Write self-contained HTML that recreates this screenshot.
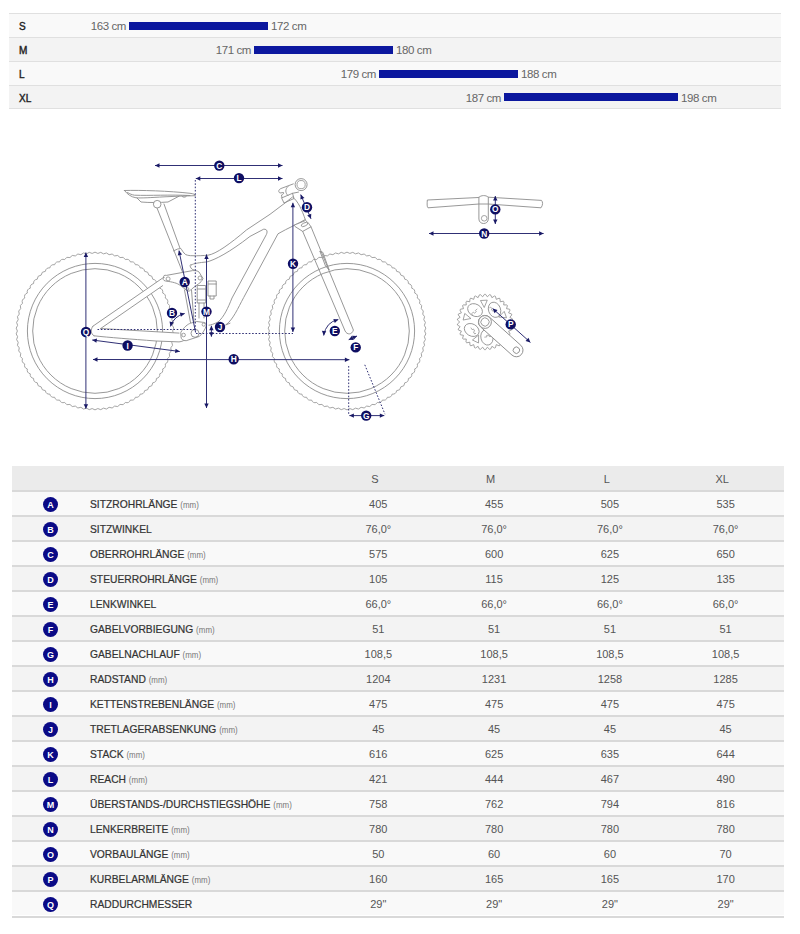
<!DOCTYPE html>
<html><head><meta charset="utf-8">
<style>
html,body{margin:0;padding:0;background:#fff;width:800px;height:934px;overflow:hidden;position:relative;font-family:"Liberation Sans",sans-serif;}
.sz{position:absolute;left:9px;width:772px;height:23px;border-top:1px solid #e0e0e0;}
.sz .lb{position:absolute;left:10px;top:7px;font-size:10px;font-weight:normal;-webkit-text-stroke:0.4px #222;color:#222;}
.sz .bar{position:absolute;top:8px;height:8px;background:#0b179e;}
.sz .t{position:absolute;top:6px;font-size:11.5px;letter-spacing:-0.4px;color:#666;white-space:nowrap;}
.sz .tl{text-align:right;}
#geo{position:absolute;left:12px;top:466px;width:772px;}
.hd{position:absolute;left:0;top:0;width:772px;height:24px;background:#ebebeb;}
.hd span{position:absolute;top:7px;font-size:11px;color:#555;transform:translateX(-50%);}
.rw{position:absolute;left:0;width:772px;height:23px;border-top:2px solid #d9d9d9;}
.rw.o{background:#f9f9f9}.rw.e{background:#f3f3f3}
.rw .ic{position:absolute;left:31px;top:4.5px;width:15px;height:15px;border-radius:50%;background:#0a0a86;color:#fff;font-size:9px;font-weight:bold;text-align:center;line-height:16.5px;}
.rw .nm{position:absolute;left:77.5px;top:5.5px;font-size:11px;font-weight:normal;-webkit-text-stroke:0.22px #333;letter-spacing:0;color:#333;white-space:nowrap;transform:scaleX(0.935);transform-origin:0 0;}
.rw .nm small{font-size:8.5px;font-weight:normal;color:#777;-webkit-text-stroke:0;letter-spacing:0;}
.rw .v{position:absolute;top:6px;font-size:11px;color:#555;transform:translateX(-50%);white-space:nowrap;}
.last{position:absolute;left:0;top:450px;width:772px;height:0;border-top:2px solid #d9d9d9;}
</style></head><body>
<div class="sz" style="top:13px;background:#f9f9f9"><span class="lb">S</span><span class="t" style="right:655px">163 cm</span><div class="bar" style="left:120px;width:139px"></div><span class="t" style="left:262px">172 cm</span></div>
<div class="sz" style="top:37px;background:#f3f3f3"><span class="lb">M</span><span class="t" style="right:530px">171 cm</span><div class="bar" style="left:245px;width:139px"></div><span class="t" style="left:387px">180 cm</span></div>
<div class="sz" style="top:61px;background:#f9f9f9"><span class="lb">L</span><span class="t" style="right:405px">179 cm</span><div class="bar" style="left:370px;width:139px"></div><span class="t" style="left:512px">188 cm</span></div>
<div class="sz" style="top:85px;height:22px;background:#f3f3f3;border-bottom:1px solid #e0e0e0"><span class="lb" style="top:6.5px">XL</span><span class="t" style="right:280px;top:5.5px">187 cm</span><div class="bar" style="left:495px;width:174px;top:7px"></div><span class="t" style="left:672px;top:5.5px">198 cm</span></div>

<svg id="bike" style="position:absolute;left:0;top:0" width="800" height="934" viewBox="0 0 800 934">
<path d="M172.60 331.00Q175.15 333.93 172.39 336.66Q174.72 339.77 171.77 342.30Q173.87 345.57 170.74 347.87Q172.59 351.29 169.31 353.36Q170.90 356.90 167.48 358.72Q168.81 362.37 165.26 363.94Q166.33 367.67 162.67 368.98Q163.46 372.78 159.72 373.82Q160.23 377.67 156.42 378.43Q156.65 382.30 152.79 382.78Q152.74 386.66 148.86 386.86Q148.52 390.73 144.64 390.65Q144.02 394.48 140.15 394.11Q139.25 397.89 135.42 397.24Q134.25 400.94 130.48 400.01Q129.04 403.62 125.35 402.42Q123.65 405.91 120.06 404.44Q118.11 407.80 114.63 406.08Q112.44 409.28 109.10 407.31Q106.68 410.35 103.49 408.13Q100.85 410.99 97.83 408.55Q95.00 411.20 92.17 408.55Q89.15 410.99 86.51 408.13Q83.32 410.35 80.90 407.31Q77.56 409.28 75.37 406.08Q71.89 407.80 69.94 404.44Q66.35 405.91 64.65 402.42Q60.96 403.62 59.52 400.01Q55.75 400.94 54.58 397.24Q50.75 397.89 49.85 394.11Q45.98 394.48 45.36 390.65Q41.48 390.73 41.14 386.86Q37.26 386.66 37.21 382.78Q33.35 382.30 33.58 378.43Q29.77 377.67 30.28 373.82Q26.54 372.78 27.33 368.98Q23.67 367.67 24.74 363.94Q21.19 362.37 22.52 358.72Q19.10 356.90 20.69 353.36Q17.41 351.29 19.26 347.87Q16.13 345.57 18.23 342.30Q15.28 339.77 17.61 336.66Q14.85 333.93 17.40 331.00Q14.85 328.07 17.61 325.34Q15.28 322.23 18.23 319.70Q16.13 316.43 19.26 314.13Q17.41 310.71 20.69 308.64Q19.10 305.10 22.52 303.28Q21.19 299.63 24.74 298.06Q23.67 294.33 27.33 293.02Q26.54 289.22 30.28 288.18Q29.77 284.33 33.58 283.57Q33.35 279.70 37.21 279.22Q37.26 275.34 41.14 275.14Q41.48 271.27 45.36 271.35Q45.98 267.52 49.85 267.89Q50.75 264.11 54.58 264.76Q55.75 261.06 59.52 261.99Q60.96 258.38 64.65 259.58Q66.35 256.09 69.94 257.56Q71.89 254.20 75.37 255.92Q77.56 252.72 80.90 254.69Q83.32 251.65 86.51 253.87Q89.15 251.01 92.17 253.45Q95.00 250.80 97.83 253.45Q100.85 251.01 103.49 253.87Q106.68 251.65 109.10 254.69Q112.44 252.72 114.63 255.92Q118.11 254.20 120.06 257.56Q123.65 256.09 125.35 259.58Q129.04 258.38 130.48 261.99Q134.25 261.06 135.42 264.76Q139.25 264.11 140.15 267.89Q144.02 267.52 144.64 271.35Q148.52 271.27 148.86 275.14Q152.74 275.34 152.79 279.22Q156.65 279.70 156.42 283.57Q160.23 284.33 159.72 288.18Q163.46 289.22 162.67 293.02Q166.33 294.33 165.26 298.06Q168.81 299.63 167.48 303.28Q170.90 305.10 169.31 308.64Q172.59 310.71 170.74 314.13Q173.87 316.43 171.77 319.70Q174.72 322.23 172.39 325.34Q175.15 328.07 172.60 331.00Z" fill="none" stroke="#9a9a9a" stroke-width="0.9"/>
<circle cx="95" cy="331" r="67.6" fill="none" stroke="#8c8c8c" stroke-width="0.9"/>
<circle cx="95" cy="331" r="62.3" fill="none" stroke="#8c8c8c" stroke-width="0.9"/>
<path d="M424.60 331.00Q427.15 333.93 424.39 336.66Q426.72 339.77 423.77 342.30Q425.87 345.57 422.74 347.87Q424.59 351.29 421.31 353.36Q422.90 356.90 419.48 358.72Q420.81 362.37 417.26 363.94Q418.33 367.67 414.67 368.98Q415.46 372.78 411.72 373.82Q412.23 377.67 408.42 378.43Q408.65 382.30 404.79 382.78Q404.74 386.66 400.86 386.86Q400.52 390.73 396.64 390.65Q396.02 394.48 392.15 394.11Q391.25 397.89 387.42 397.24Q386.25 400.94 382.48 400.01Q381.04 403.62 377.35 402.42Q375.65 405.91 372.06 404.44Q370.11 407.80 366.63 406.08Q364.44 409.28 361.10 407.31Q358.68 410.35 355.49 408.13Q352.85 410.99 349.83 408.55Q347.00 411.20 344.17 408.55Q341.15 410.99 338.51 408.13Q335.32 410.35 332.90 407.31Q329.56 409.28 327.37 406.08Q323.89 407.80 321.94 404.44Q318.35 405.91 316.65 402.42Q312.96 403.62 311.52 400.01Q307.75 400.94 306.58 397.24Q302.75 397.89 301.85 394.11Q297.98 394.48 297.36 390.65Q293.48 390.73 293.14 386.86Q289.26 386.66 289.21 382.78Q285.35 382.30 285.58 378.43Q281.77 377.67 282.28 373.82Q278.54 372.78 279.33 368.98Q275.67 367.67 276.74 363.94Q273.19 362.37 274.52 358.72Q271.10 356.90 272.69 353.36Q269.41 351.29 271.26 347.87Q268.13 345.57 270.23 342.30Q267.28 339.77 269.61 336.66Q266.85 333.93 269.40 331.00Q266.85 328.07 269.61 325.34Q267.28 322.23 270.23 319.70Q268.13 316.43 271.26 314.13Q269.41 310.71 272.69 308.64Q271.10 305.10 274.52 303.28Q273.19 299.63 276.74 298.06Q275.67 294.33 279.33 293.02Q278.54 289.22 282.28 288.18Q281.77 284.33 285.58 283.57Q285.35 279.70 289.21 279.22Q289.26 275.34 293.14 275.14Q293.48 271.27 297.36 271.35Q297.98 267.52 301.85 267.89Q302.75 264.11 306.58 264.76Q307.75 261.06 311.52 261.99Q312.96 258.38 316.65 259.58Q318.35 256.09 321.94 257.56Q323.89 254.20 327.37 255.92Q329.56 252.72 332.90 254.69Q335.32 251.65 338.51 253.87Q341.15 251.01 344.17 253.45Q347.00 250.80 349.83 253.45Q352.85 251.01 355.49 253.87Q358.68 251.65 361.10 254.69Q364.44 252.72 366.63 255.92Q370.11 254.20 372.06 257.56Q375.65 256.09 377.35 259.58Q381.04 258.38 382.48 261.99Q386.25 261.06 387.42 264.76Q391.25 264.11 392.15 267.89Q396.02 267.52 396.64 271.35Q400.52 271.27 400.86 275.14Q404.74 275.34 404.79 279.22Q408.65 279.70 408.42 283.57Q412.23 284.33 411.72 288.18Q415.46 289.22 414.67 293.02Q418.33 294.33 417.26 298.06Q420.81 299.63 419.48 303.28Q422.90 305.10 421.31 308.64Q424.59 310.71 422.74 314.13Q425.87 316.43 423.77 319.70Q426.72 322.23 424.39 325.34Q427.15 328.07 424.60 331.00Z" fill="none" stroke="#9a9a9a" stroke-width="0.9"/>
<circle cx="347" cy="331" r="67.6" fill="none" stroke="#8c8c8c" stroke-width="0.9"/>
<circle cx="347" cy="331" r="62.3" fill="none" stroke="#8c8c8c" stroke-width="0.9"/>
<path d="M124.5 190.5 C140 190 170 191 190 193.3 C194 193.8 196 194.8 195.2 195.7 C185 196 175 196.2 165 196.8 C150 197.6 142 198.2 136 197.8 C131 197 127 194 124.5 190.5 Z" fill="#fff" stroke="#8c8c8c" stroke-width="0.9" stroke-linejoin="round" stroke-linecap="round"/>
<path d="M127.5 192.5 C130 194 132 194.8 134.5 195.2 C150 195.8 170 194.5 190 195.5" fill="none" stroke="#8c8c8c" stroke-width="0.9" stroke-linejoin="round" stroke-linecap="round"/>
<path d="M137 198 L141 202 C150 202.8 160 202.6 168 202 L179 196.2" fill="none" stroke="#8c8c8c" stroke-width="0.9" stroke-linejoin="round" stroke-linecap="round"/>
<path d="M182 196.3 C183 197.6 185.5 197.6 186.5 196.1" fill="none" stroke="#8c8c8c" stroke-width="0.9" stroke-linejoin="round" stroke-linecap="round"/>
<path d="M156.6 207 L183.3 274 M164 204 L179.8 247.7" fill="none" stroke="#8c8c8c" stroke-width="0.9" stroke-linejoin="round" stroke-linecap="round"/>
<circle cx="157.2" cy="204.2" r="3.8" fill="#fff" stroke="#8c8c8c" stroke-width="0.9"/>
<path d="M184.5 290 L190.6 323 M191.5 290 L194 322" fill="none" stroke="#8c8c8c" stroke-width="0.9" stroke-linejoin="round" stroke-linecap="round"/>
<path d="M173.4 250.9 L177.7 249 L180.9 248.5 C182 250 183 252.5 185.7 254.6 C188 255.5 190 255.7 192 255.7 C198 256 204 255.5 208 255.2 C216 254 230 244 246.4 230 L270 214.3 L285 203" fill="none" stroke="#8c8c8c" stroke-width="0.9" stroke-linejoin="round" stroke-linecap="round"/>
<path d="M191.7 264.8 C190 263.5 189.5 266 191 268 C192 269.5 193 270 196 270.5" fill="none" stroke="#8c8c8c" stroke-width="0.9" stroke-linejoin="round" stroke-linecap="round"/>
<path d="M191.7 264.8 C193 263.5 200 262.5 206.5 262 C215 260 230 252 250 236.4 L263.7 229.2 C267.5 229 268 232 265.6 236 L232 298 C228 308 224 317 218 322 C214 324 211 325 209 325.2" fill="none" stroke="#8c8c8c" stroke-width="0.9" stroke-linejoin="round" stroke-linecap="round"/>
<path d="M305.25 219.5 C298 224 288 228 278 233.8 L243.7 297.5 C238 308 233 320 225.6 325 L230 323.2" fill="none" stroke="#8c8c8c" stroke-width="0.9" stroke-linejoin="round" stroke-linecap="round"/>
<path d="M285 203 L292.5 197 C298 201 302 210 305.25 219.5" fill="none" stroke="#8c8c8c" stroke-width="0.9" stroke-linejoin="round" stroke-linecap="round"/>
<path d="M293.3 183.9 L281 188.5 C278.5 189.5 278 192 280 193 L283.5 192.5 C284 193.5 283 194.5 281.5 195 L282 197.8 L292.5 193.3 L298.5 192.1" fill="none" stroke="#8c8c8c" stroke-width="0.9" stroke-linejoin="round" stroke-linecap="round"/>
<path d="M281.5 197.8 L284 203 L294 198.5 L292.5 193.3" fill="none" stroke="#8c8c8c" stroke-width="0.9" stroke-linejoin="round" stroke-linecap="round"/>
<path d="M288 186.5 C285 189 285 193 288 195.5" fill="none" stroke="#8c8c8c" stroke-width="0.9" stroke-linejoin="round" stroke-linecap="round"/>
<circle cx="301.1" cy="184.6" r="6" fill="#fff" stroke="#8c8c8c" stroke-width="0.9"/>
<circle cx="301.1" cy="184.6" r="4.1" fill="none" stroke="#8c8c8c" stroke-width="0.8"/>
<path d="M294.5 225 L305.5 220.5 C308 222 309 224 311 226.8 L302.7 231.4 L295.5 226.8 Z" fill="#fff" stroke="#8c8c8c" stroke-width="0.9" stroke-linejoin="round" stroke-linecap="round"/>
<ellipse cx="304.5" cy="224.5" rx="3.5" ry="1.6" transform="rotate(-25 304.5 224.5)" fill="none" stroke="#8c8c8c" stroke-width="0.8"/>
<path d="M302.7 231.4 L345.1 331 C347 335 352 335 353.4 330 L311 226.8" fill="none" stroke="#8c8c8c" stroke-width="0.9" stroke-linejoin="round" stroke-linecap="round"/>
<path d="M320 251.4 L325.5 266 L329 269.6 M320 251.4 L322.8 252.3 L329 269.6" fill="none" stroke="#8c8c8c" stroke-width="0.9" stroke-linejoin="round" stroke-linecap="round"/>
<path d="M92.9 326.2 L163.7 277.3 L162.6 285.7 L100.7 328.5 L179 333.1 L186 339.2 L179 341.9 L156 341 L94 335.8 Z" fill="#fff" stroke="none"/>
<path d="M92.9 326.2 L163.7 277.3 M100.7 328.5 L162.6 285.7" fill="none" stroke="#8c8c8c" stroke-width="0.9" stroke-linejoin="round" stroke-linecap="round"/>
<path d="M92.9 326.2 C90.5 329 90.5 334 94 335.8" fill="none" stroke="#8c8c8c" stroke-width="0.9" stroke-linejoin="round" stroke-linecap="round"/>
<path d="M163.7 277.3 C163 275.5 164.5 275 166.4 275.4 L192.6 270.6 C196 270.5 198 271 199 272 L203 278.5 C202 281 200.5 282.5 198.7 283.7 L191.7 289 C190 291 188.5 291.6 187.5 291 L180.4 285.5 C177 283 173 282 165.5 281 C163 280.5 162.6 279 163.7 277.3Z" fill="#fff" stroke="#8c8c8c" stroke-width="0.9" stroke-linejoin="round" stroke-linecap="round"/>
<circle cx="168.1" cy="278.9" r="2" fill="none" stroke="#8c8c8c" stroke-width="0.8"/>
<circle cx="200" cy="278" r="2" fill="none" stroke="#8c8c8c" stroke-width="0.8"/>
<circle cx="187.4" cy="289" r="1.5" fill="none" stroke="#8c8c8c" stroke-width="0.8"/>
<path d="M94 335.8 C110 337.6 130 339 156 341 L179 341.9 C182 341.6 184 340.6 186 339.2 M100.7 328.5 L179 333.1" fill="none" stroke="#8c8c8c" stroke-width="0.9" stroke-linejoin="round" stroke-linecap="round"/>
<path d="M197.6 285.5 L205.7 285.5 L205.7 303 L197.6 303Z M197.6 289 L205.7 289 M197.6 300 L205.7 300" fill="#fff" stroke="#8c8c8c" stroke-width="0.9" stroke-linejoin="round" stroke-linecap="round"/>
<path d="M208.4 281 L216.2 281 L216.2 296 L208.4 296Z M208.4 284 L216.2 284 M210 296 L210 299 L214 299 L214 296" fill="#fff" stroke="#8c8c8c" stroke-width="0.9" stroke-linejoin="round" stroke-linecap="round"/>
<path d="M199 303 L199 318 M204 303 L204 318" fill="none" stroke="#8c8c8c" stroke-width="0.9" stroke-linejoin="round" stroke-linecap="round"/>
<path d="M181 332 C184 327 188 324 190.6 323.2 L196.7 321.5 L203.7 322.4 C206 323 207 324 206.4 325.5 C205 330 202 334 199.4 336.4 L186.2 340.7 C183 341 181 339 181 337.2Z" fill="#fff" stroke="#8c8c8c" stroke-width="0.9" stroke-linejoin="round" stroke-linecap="round"/>
<circle cx="195" cy="333.3" r="4" fill="none" stroke="#8c8c8c" stroke-width="0.9"/>
<circle cx="183.6" cy="335" r="1.8" fill="none" stroke="#8c8c8c" stroke-width="0.8"/>
<circle cx="203.7" cy="324.6" r="1.6" fill="none" stroke="#8c8c8c" stroke-width="0.8"/>
<line x1="155" y1="165.5" x2="282.5" y2="165.5" stroke="#303075" stroke-width="1.0"/><path d="M282.50 165.50L278.00 167.70L278.00 163.30Z" fill="#1a1a66"/><path d="M155.00 165.50L159.50 163.30L159.50 167.70Z" fill="#1a1a66"/>
<line x1="195.8" y1="178.5" x2="282.5" y2="178.5" stroke="#303075" stroke-width="1.0"/><path d="M282.50 178.50L278.00 180.70L278.00 176.30Z" fill="#1a1a66"/><path d="M195.80 178.50L200.30 176.30L200.30 180.70Z" fill="#1a1a66"/>
<line x1="195.3" y1="180" x2="195.3" y2="330" stroke="#303075" stroke-width="1" stroke-dasharray="1.6 1.7"/>
<circle cx="219.3" cy="165.6" r="5.2" fill="#0e0e62"/><text x="219.3" y="168.6" text-anchor="middle" font-size="8.4" font-weight="bold" fill="#fff">C</text>
<circle cx="239" cy="178.1" r="5.2" fill="#0e0e62"/><text x="239" y="181.1" text-anchor="middle" font-size="8.4" font-weight="bold" fill="#fff">L</text>
<line x1="292.9" y1="332" x2="292.9" y2="202.8" stroke="#303075" stroke-width="1.0"/><path d="M292.90 202.80L295.10 207.30L290.70 207.30Z" fill="#1a1a66"/><path d="M292.90 332.00L290.70 327.50L295.10 327.50Z" fill="#1a1a66"/>
<circle cx="293" cy="263.8" r="5.2" fill="#0e0e62"/><text x="293" y="266.8" text-anchor="middle" font-size="8.4" font-weight="bold" fill="#fff">K</text>
<line x1="300.7" y1="194.6" x2="311" y2="218.8" stroke="#303075" stroke-width="1.0"/><path d="M311.00 218.80L307.21 215.52L311.26 213.80Z" fill="#1a1a66"/><path d="M300.70 194.60L304.49 197.88L300.44 199.60Z" fill="#1a1a66"/>
<circle cx="307" cy="207.3" r="5.2" fill="#0e0e62"/><text x="307" y="210.3" text-anchor="middle" font-size="8.4" font-weight="bold" fill="#fff">D</text>
<line x1="85.9" y1="408.7" x2="85.9" y2="252.5" stroke="#303075" stroke-width="1.0"/><path d="M85.90 252.50L88.10 257.00L83.70 257.00Z" fill="#1a1a66"/><path d="M85.90 408.70L83.70 404.20L88.10 404.20Z" fill="#1a1a66"/>
<circle cx="86" cy="332" r="5.2" fill="#0e0e62"/><text x="86" y="335.0" text-anchor="middle" font-size="8.4" font-weight="bold" fill="#fff">Q</text>
<line x1="92.25" y1="340" x2="179.75" y2="351.5" stroke="#303075" stroke-width="1.0"/><path d="M179.75 351.50L175.00 353.09L175.58 348.73Z" fill="#1a1a66"/><path d="M92.25 340.00L97.00 338.41L96.42 342.77Z" fill="#1a1a66"/>
<circle cx="127.6" cy="345.5" r="5.2" fill="#0e0e62"/><text x="127.6" y="348.5" text-anchor="middle" font-size="8.4" font-weight="bold" fill="#fff">I</text>
<line x1="349.4" y1="359.7" x2="93" y2="359.5" stroke="#303075" stroke-width="1.0"/><path d="M93.00 359.50L97.50 357.30L97.50 361.70Z" fill="#1a1a66"/><path d="M349.40 359.70L344.90 361.90L344.90 357.50Z" fill="#1a1a66"/>
<circle cx="233.7" cy="359.3" r="5.2" fill="#0e0e62"/><text x="233.7" y="362.3" text-anchor="middle" font-size="8.4" font-weight="bold" fill="#fff">H</text>
<line x1="206.5" y1="408" x2="206.5" y2="254.4" stroke="#303075" stroke-width="1.0"/><path d="M206.50 254.40L208.70 258.90L204.30 258.90Z" fill="#1a1a66"/><path d="M206.50 408.00L204.30 403.50L208.70 403.50Z" fill="#1a1a66"/>
<circle cx="206.5" cy="311.6" r="5.2" fill="#0e0e62"/><text x="206.5" y="314.6" text-anchor="middle" font-size="8.4" font-weight="bold" fill="#fff">M</text>
<line x1="195.6" y1="332.5" x2="179" y2="250.6" stroke="#303075" stroke-width="1.0"/><path d="M179.00 250.60L182.05 254.57L177.74 255.45Z" fill="#1a1a66"/>
<circle cx="184.7" cy="282" r="5.2" fill="#0e0e62"/><text x="184.7" y="285.0" text-anchor="middle" font-size="8.4" font-weight="bold" fill="#fff">A</text>
<line x1="97.5" y1="329.5" x2="195" y2="329.5" stroke="#303075" stroke-width="1" stroke-dasharray="1.6 1.7"/>
<line x1="196" y1="333.5" x2="293" y2="333.5" stroke="#303075" stroke-width="1" stroke-dasharray="1.6 1.7"/>
<line x1="211.4" y1="325.8" x2="211.4" y2="336.7" stroke="#303075" stroke-width="1.0"/><path d="M211.40 336.70L209.20 332.20L213.60 332.20Z" fill="#1a1a66"/><path d="M211.40 325.80L213.60 330.30L209.20 330.30Z" fill="#1a1a66"/>
<circle cx="220" cy="327" r="5.2" fill="#0e0e62"/><text x="220" y="330.0" text-anchor="middle" font-size="8.4" font-weight="bold" fill="#fff">J</text>
<path d="M170.5 326.4 Q174 316 184.7 313.5" fill="none" stroke="#303075" stroke-width="1"/>
<path d="M170.50 326.40L169.54 321.48L173.79 322.62Z" fill="#1a1a66"/>
<path d="M184.70 313.50L180.92 316.79L179.78 312.54Z" fill="#1a1a66"/>
<circle cx="172" cy="313" r="5.2" fill="#0e0e62"/><text x="172" y="316.0" text-anchor="middle" font-size="8.4" font-weight="bold" fill="#fff">B</text>
<path d="M323.7 335.5 Q326 322 338.3 319.5" fill="none" stroke="#303075" stroke-width="1"/>
<path d="M323.70 335.50L321.90 330.83L326.28 331.21Z" fill="#1a1a66"/>
<path d="M338.30 319.50L334.82 323.11L333.32 318.97Z" fill="#1a1a66"/>
<circle cx="334.8" cy="331" r="5.2" fill="#0e0e62"/><text x="334.8" y="334.0" text-anchor="middle" font-size="8.4" font-weight="bold" fill="#fff">E</text>
<line x1="348.7" y1="339.7" x2="357" y2="336" stroke="#303075" stroke-width="1.0"/><path d="M357.00 336.00L353.79 339.84L351.99 335.82Z" fill="#1a1a66"/><path d="M348.70 339.70L351.91 335.86L353.71 339.88Z" fill="#1a1a66"/>
<circle cx="355.7" cy="347.4" r="5.2" fill="#0e0e62"/><text x="355.7" y="350.4" text-anchor="middle" font-size="8.4" font-weight="bold" fill="#fff">F</text>
<line x1="348.7" y1="366" x2="348.7" y2="414.2" stroke="#303075" stroke-width="1" stroke-dasharray="1.6 1.7"/>
<line x1="364.8" y1="364.8" x2="385" y2="414.2" stroke="#303075" stroke-width="1" stroke-dasharray="1.6 1.7"/>
<line x1="349.4" y1="415.6" x2="384.3" y2="415.6" stroke="#303075" stroke-width="1.0"/><path d="M384.30 415.60L379.80 417.80L379.80 413.40Z" fill="#1a1a66"/><path d="M349.40 415.60L353.90 413.40L353.90 417.80Z" fill="#1a1a66"/>
<circle cx="366.2" cy="415.6" r="5.2" fill="#0e0e62"/><text x="366.2" y="418.6" text-anchor="middle" font-size="8.4" font-weight="bold" fill="#fff">G</text>
<path d="M427.3 200.4 C427 204 427 207 428 207.8 L479 204 L488.3 204 L541 207.8 C543 205 543 202 541.5 200.4 L488.3 197.2 C486 195 481 195 479 197.2 Z" fill="#fff" stroke="#8c8c8c" stroke-width="0.9" stroke-linejoin="round" stroke-linecap="round"/>
<path d="M478.9 197.2 L478.9 219 C479 225 488.3 225 488.3 219 L488.3 197.2" fill="none" stroke="#8c8c8c" stroke-width="0.9" stroke-linejoin="round" stroke-linecap="round"/>
<circle cx="484.2" cy="218.3" r="2.8" fill="none" stroke="#8c8c8c" stroke-width="0.8"/>
<line x1="495.3" y1="196" x2="495.3" y2="224" stroke="#303075" stroke-width="1.0"/><path d="M495.30 224.00L493.10 219.50L497.50 219.50Z" fill="#1a1a66"/><path d="M495.30 196.00L497.50 200.50L493.10 200.50Z" fill="#1a1a66"/>
<circle cx="495.3" cy="209.4" r="5.2" fill="#0e0e62"/><text x="495.3" y="212.4" text-anchor="middle" font-size="8.4" font-weight="bold" fill="#fff">O</text>
<line x1="429" y1="233.5" x2="543.6" y2="233.5" stroke="#303075" stroke-width="1.0"/><path d="M543.60 233.50L539.10 235.70L539.10 231.30Z" fill="#1a1a66"/><path d="M429.00 233.50L433.50 231.30L433.50 235.70Z" fill="#1a1a66"/>
<circle cx="484.2" cy="233.5" r="5.2" fill="#0e0e62"/><text x="484.2" y="236.5" text-anchor="middle" font-size="8.4" font-weight="bold" fill="#fff">N</text>
<path d="M510.30 322.00L512.62 324.05L512.53 325.07L509.87 326.65L509.87 326.65L511.78 329.09L511.50 330.07L508.59 331.14L508.59 331.14L510.02 333.89L509.56 334.80L506.51 335.32L506.51 335.32L507.41 338.28L506.79 339.10L503.70 339.04L503.70 339.04L504.04 342.12L503.28 342.81L500.25 342.19L500.25 342.19L500.01 345.28L499.14 345.82L496.28 344.65L496.28 344.65L495.48 347.64L494.53 348.01L491.92 346.33L491.92 346.33L490.59 349.13L489.59 349.32L487.33 347.19L487.33 347.19L485.51 349.70L484.49 349.70L482.67 347.19L482.67 347.19L480.41 349.32L479.41 349.13L478.08 346.33L478.08 346.33L475.47 348.01L474.52 347.64L473.72 344.65L473.72 344.65L470.86 345.82L469.99 345.28L469.75 342.19L469.75 342.19L466.72 342.81L465.96 342.12L466.30 339.04L466.30 339.04L463.21 339.10L462.59 338.28L463.49 335.32L463.49 335.32L460.44 334.80L459.98 333.89L461.41 331.14L461.41 331.14L458.50 330.07L458.22 329.09L460.13 326.65L460.13 326.65L457.47 325.07L457.38 324.05L459.70 322.00L459.70 322.00L457.38 319.95L457.47 318.93L460.13 317.35L460.13 317.35L458.22 314.91L458.50 313.93L461.41 312.86L461.41 312.86L459.98 310.11L460.44 309.20L463.49 308.68L463.49 308.68L462.59 305.72L463.21 304.90L466.30 304.96L466.30 304.96L465.96 301.88L466.72 301.19L469.75 301.81L469.75 301.81L469.99 298.72L470.86 298.18L473.72 299.35L473.72 299.35L474.52 296.36L475.47 295.99L478.08 297.67L478.08 297.67L479.41 294.87L480.41 294.68L482.67 296.81L482.67 296.81L484.49 294.30L485.51 294.30L487.33 296.81L487.33 296.81L489.59 294.68L490.59 294.87L491.92 297.67L491.92 297.67L494.53 295.99L495.48 296.36L496.28 299.35L496.28 299.35L499.14 298.18L500.01 298.72L500.25 301.81L500.25 301.81L503.28 301.19L504.04 301.88L503.70 304.96L503.70 304.96L506.79 304.90L507.41 305.72L506.51 308.68L506.51 308.68L509.56 309.20L510.02 310.11L508.59 312.86L508.59 312.86L511.50 313.93L511.78 314.91L509.87 317.35L509.87 317.35L512.53 318.93L512.62 319.95L510.30 322.00Z" fill="#fff" stroke="#8c8c8c" stroke-width="0.8" stroke-linejoin="round"/>
<ellipse cx="475.04" cy="310.13" rx="7.8" ry="6" transform="rotate(30 475.04 310.13)" fill="none" stroke="#8c8c8c" stroke-width="0.8"/>
<path d="M472.49 314.87 l-0.96 -1.15 l1.92 -1.61 l0.96 1.15 l1.92 -1.61 l-0.96 -1.15 l1.92 -1.61" fill="none" stroke="#8c8c8c" stroke-width="0.7"/>
<ellipse cx="494.54" cy="309.79" rx="7.8" ry="6" transform="rotate(70 494.54 309.79)" fill="none" stroke="#8c8c8c" stroke-width="0.8"/>
<path d="M489.37 308.28 l0.92 -1.18 l1.97 1.54 l-0.92 1.18 l1.97 1.54 l0.92 -1.18 l1.97 1.54" fill="none" stroke="#8c8c8c" stroke-width="0.7"/>
<ellipse cx="486.89" cy="337.38" rx="7.8" ry="6" transform="rotate(75 486.89 337.38)" fill="none" stroke="#8c8c8c" stroke-width="0.8"/>
<path d="M491.61 334.79 l0.18 1.49 l-2.48 0.30 l-0.18 -1.49 l-2.48 0.30 l0.18 1.49 l-2.48 0.30" fill="none" stroke="#8c8c8c" stroke-width="0.7"/>
<ellipse cx="471.71" cy="329.98" rx="7.8" ry="6" transform="rotate(30 471.71 329.98)" fill="none" stroke="#8c8c8c" stroke-width="0.8"/>
<path d="M476.00 333.24 l-1.29 0.77 l-1.29 -2.14 l1.29 -0.77 l-1.29 -2.14 l-1.29 0.77 l-1.29 -2.14" fill="none" stroke="#8c8c8c" stroke-width="0.7"/>
<path d="M484.24 307.52L487.26 300.15L480.47 300.51Z" fill="none" stroke="#8c8c8c" stroke-width="0.8" stroke-linejoin="round"/>
<path d="M470.93 318.49L464.77 313.45L463.12 320.05Z" fill="none" stroke="#8c8c8c" stroke-width="0.8" stroke-linejoin="round"/>
<path d="M478.64 335.03L472.43 340.01L478.54 342.99Z" fill="none" stroke="#8c8c8c" stroke-width="0.8" stroke-linejoin="round"/>
<path d="M498.63 317.04L506.55 317.77L504.23 311.38Z" fill="none" stroke="#8c8c8c" stroke-width="0.8" stroke-linejoin="round"/>
<g transform="translate(485 322) rotate(41.93)"><rect x="-6.6" y="-6.6" width="55.40" height="13.2" rx="6.6" fill="#fff" stroke="#8c8c8c" stroke-width="0.9"/><circle cx="0" cy="0" r="6.4" fill="#fff" stroke="#8c8c8c" stroke-width="0.9"/><circle cx="0" cy="0" r="4.1" fill="none" stroke="#8c8c8c" stroke-width="0.8"/><circle cx="42.20" cy="0" r="3.2" fill="none" stroke="#8c8c8c" stroke-width="0.9"/></g>
<line x1="492.7" y1="308.6" x2="530.4" y2="342.4" stroke="#303075" stroke-width="1.0"/><path d="M530.40 342.40L525.58 341.03L528.52 337.76Z" fill="#1a1a66"/><path d="M492.70 308.60L497.52 309.97L494.58 313.24Z" fill="#1a1a66"/>
<circle cx="510.7" cy="324.4" r="5.2" fill="#0e0e62"/><text x="510.7" y="327.4" text-anchor="middle" font-size="8.4" font-weight="bold" fill="#fff">P</text>
</svg>

<div id="geo">
<div class="hd"><span style="left:363px">S</span><span style="left:478.7px">M</span><span style="left:594.8px">L</span><span style="left:710.2px">XL</span></div>
<div class="rw o" style="top:24px"><span class="ic">A</span><span class="nm">SITZROHRLÄNGE <small>(mm)</small></span><span class="v" style="left:366.3px">405</span><span class="v" style="left:482.1px">455</span><span class="v" style="left:597.9px">505</span><span class="v" style="left:713.6px">535</span></div>
<div class="rw e" style="top:49px"><span class="ic">B</span><span class="nm">SITZWINKEL</span><span class="v" style="left:366.3px">76,0°</span><span class="v" style="left:482.1px">76,0°</span><span class="v" style="left:597.9px">76,0°</span><span class="v" style="left:713.6px">76,0°</span></div>
<div class="rw o" style="top:74px"><span class="ic">C</span><span class="nm">OBERROHRLÄNGE <small>(mm)</small></span><span class="v" style="left:366.3px">575</span><span class="v" style="left:482.1px">600</span><span class="v" style="left:597.9px">625</span><span class="v" style="left:713.6px">650</span></div>
<div class="rw e" style="top:99px"><span class="ic">D</span><span class="nm">STEUERROHRLÄNGE <small>(mm)</small></span><span class="v" style="left:366.3px">105</span><span class="v" style="left:482.1px">115</span><span class="v" style="left:597.9px">125</span><span class="v" style="left:713.6px">135</span></div>
<div class="rw o" style="top:124px"><span class="ic">E</span><span class="nm">LENKWINKEL</span><span class="v" style="left:366.3px">66,0°</span><span class="v" style="left:482.1px">66,0°</span><span class="v" style="left:597.9px">66,0°</span><span class="v" style="left:713.6px">66,0°</span></div>
<div class="rw e" style="top:149px"><span class="ic">F</span><span class="nm">GABELVORBIEGUNG <small>(mm)</small></span><span class="v" style="left:366.3px">51</span><span class="v" style="left:482.1px">51</span><span class="v" style="left:597.9px">51</span><span class="v" style="left:713.6px">51</span></div>
<div class="rw o" style="top:174px"><span class="ic">G</span><span class="nm">GABELNACHLAUF <small>(mm)</small></span><span class="v" style="left:366.3px">108,5</span><span class="v" style="left:482.1px">108,5</span><span class="v" style="left:597.9px">108,5</span><span class="v" style="left:713.6px">108,5</span></div>
<div class="rw e" style="top:199px"><span class="ic">H</span><span class="nm">RADSTAND <small>(mm)</small></span><span class="v" style="left:366.3px">1204</span><span class="v" style="left:482.1px">1231</span><span class="v" style="left:597.9px">1258</span><span class="v" style="left:713.6px">1285</span></div>
<div class="rw o" style="top:224px"><span class="ic">I</span><span class="nm">KETTENSTREBENLÄNGE <small>(mm)</small></span><span class="v" style="left:366.3px">475</span><span class="v" style="left:482.1px">475</span><span class="v" style="left:597.9px">475</span><span class="v" style="left:713.6px">475</span></div>
<div class="rw e" style="top:249px"><span class="ic">J</span><span class="nm">TRETLAGERABSENKUNG <small>(mm)</small></span><span class="v" style="left:366.3px">45</span><span class="v" style="left:482.1px">45</span><span class="v" style="left:597.9px">45</span><span class="v" style="left:713.6px">45</span></div>
<div class="rw o" style="top:274px"><span class="ic">K</span><span class="nm">STACK <small>(mm)</small></span><span class="v" style="left:366.3px">616</span><span class="v" style="left:482.1px">625</span><span class="v" style="left:597.9px">635</span><span class="v" style="left:713.6px">644</span></div>
<div class="rw e" style="top:299px"><span class="ic">L</span><span class="nm">REACH <small>(mm)</small></span><span class="v" style="left:366.3px">421</span><span class="v" style="left:482.1px">444</span><span class="v" style="left:597.9px">467</span><span class="v" style="left:713.6px">490</span></div>
<div class="rw o" style="top:324px"><span class="ic">M</span><span class="nm">ÜBERSTANDS-/DURCHSTIEGSHÖHE <small>(mm)</small></span><span class="v" style="left:366.3px">758</span><span class="v" style="left:482.1px">762</span><span class="v" style="left:597.9px">794</span><span class="v" style="left:713.6px">816</span></div>
<div class="rw e" style="top:349px"><span class="ic">N</span><span class="nm">LENKERBREITE <small>(mm)</small></span><span class="v" style="left:366.3px">780</span><span class="v" style="left:482.1px">780</span><span class="v" style="left:597.9px">780</span><span class="v" style="left:713.6px">780</span></div>
<div class="rw o" style="top:374px"><span class="ic">O</span><span class="nm">VORBAULÄNGE <small>(mm)</small></span><span class="v" style="left:366.3px">50</span><span class="v" style="left:482.1px">60</span><span class="v" style="left:597.9px">60</span><span class="v" style="left:713.6px">70</span></div>
<div class="rw e" style="top:399px"><span class="ic">P</span><span class="nm">KURBELARMLÄNGE <small>(mm)</small></span><span class="v" style="left:366.3px">160</span><span class="v" style="left:482.1px">165</span><span class="v" style="left:597.9px">165</span><span class="v" style="left:713.6px">170</span></div>
<div class="rw o" style="top:424px"><span class="ic">Q</span><span class="nm">RADDURCHMESSER</span><span class="v" style="left:366.3px">29"</span><span class="v" style="left:482.1px">29"</span><span class="v" style="left:597.9px">29"</span><span class="v" style="left:713.6px">29"</span></div>
<div class="last"></div>
</div>
</body></html>
